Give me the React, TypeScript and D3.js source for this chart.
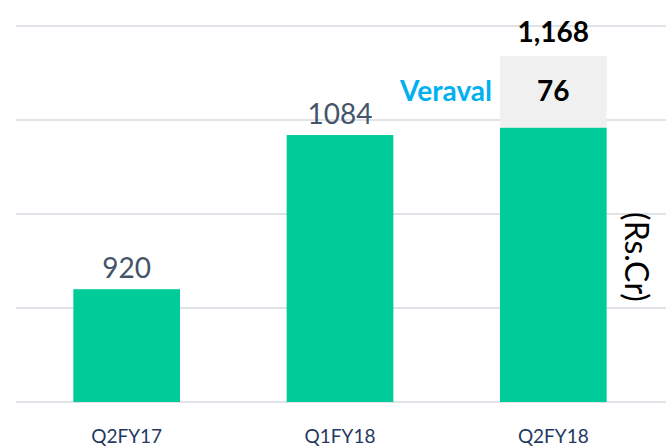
import React from "react";
import * as d3 from "d3";

const categories = ["Q2FY17", "Q1FY18", "Q2FY18"];
const baseValues = [920, 1084, 1092];
const veravalValues = [0, 0, 76];
const totalLabels = ["920", "1084", "1,168"];
const yTicks = [800, 900, 1000, 1100, 1200];

const W = 666;
const H = 446;

export default function App() {
  const x = d3.scaleBand<string>().domain(categories).range([20, 660]).paddingInner(0.5).paddingOuter(0.25);
  const y = d3.scaleLinear().domain([800, 1200]).range([402, 26]);
  const font = "Lato, 'Open Sans', sans-serif";
  return (
    <svg width={W} height={H} style={{ position: "absolute", left: 0, top: 0 }}>
      <rect width={W} height={H} fill="#fff" />
      {yTicks.map((t) => (
        <line key={t} x1={16} x2={666} y1={y(t)} y2={y(t)} stroke="#dfe3e8" strokeWidth={2} />
      ))}
      {categories.map((c, i) => {
        const bx = x(c)!;
        const bw = x.bandwidth();
        const cx = bx + bw / 2;
        const top = baseValues[i] + veravalValues[i];
        const mid = (y(top) + y(baseValues[i])) / 2;
        return (
          <g key={c}>
            <rect x={bx} y={y(baseValues[i])} width={bw} height={y(800) - y(baseValues[i])} fill="#00cc99" />
            {veravalValues[i] > 0 && (
              <rect x={bx} y={y(top)} width={bw} height={y(baseValues[i]) - y(top)} fill="#f0f0f0" />
            )}
            {veravalValues[i] > 0 ? (
              <>
                <text x={cx} y={y(top) - 14} textAnchor="middle" fontFamily={font} fontWeight="bold" fontSize={28} fill="#000">
                  {totalLabels[i]}
                </text>
                <text x={cx} y={mid + 9} textAnchor="middle" fontFamily={font} fontWeight="bold" fontSize={28} fill="#000">
                  {veravalValues[i]}
                </text>
                <text x={bx - 8} y={mid + 9} textAnchor="end" fontFamily={font} fontWeight="bold" fontSize={28} fill="#00b0f0">
                  Veraval
                </text>
              </>
            ) : (
              <text x={cx} y={y(baseValues[i]) - 11} textAnchor="middle" fontFamily={font} fontSize={28} fill="#44546a">
                {totalLabels[i]}
              </text>
            )}
            <text x={cx} y={443} textAnchor="middle" fontFamily={font} fontSize={19} fill="#1f3864">
              {c}
            </text>
          </g>
        );
      })}
      <text transform="translate(625,257) rotate(90)" textAnchor="middle" fontFamily={font} fontSize={32} fill="#000">
        (Rs.Cr)
      </text>
    </svg>
  );
}
